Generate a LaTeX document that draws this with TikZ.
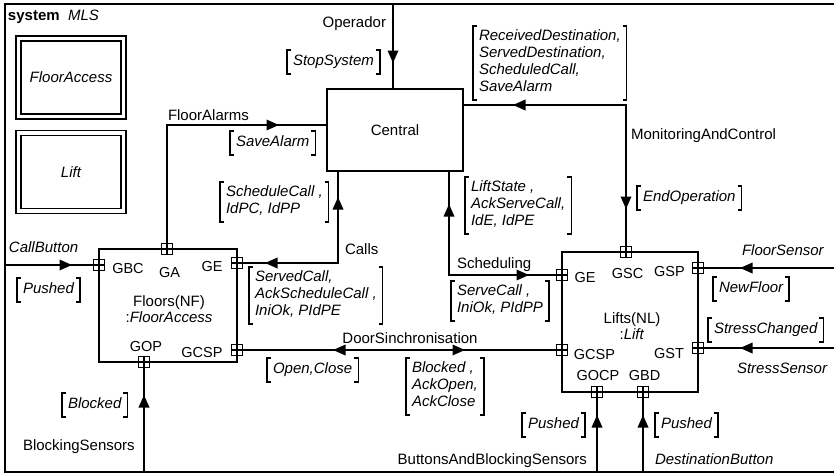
\documentclass[tikz,border=0pt]{standalone}
\usepackage{fontspec}
\setmainfont{Liberation Sans}
\usetikzlibrary{arrows.meta,decorations.markings,backgrounds}

\tikzset{
  txt/.style={font=\fontsize{15}{17}\selectfont, inner sep=0pt, outer sep=0pt},
  frame/.style={line width=2.2pt},
  box/.style={draw, line width=2pt, inner sep=0pt, font=\fontsize{15}{17}\selectfont},
  dbl/.style={draw, line width=1.8pt, double, double distance=3.2pt,
    minimum width=105pt, minimum height=78pt, inner sep=0pt,
    font=\fontsize{15}{17}\selectfont\itshape},
  conn/.style={line width=1.8pt},
  fwdtip/.style={postaction={decorate, decoration={markings,
      mark=at position #1 with {\arrow{Triangle[length=12.5pt,width=10.5pt]}}}}},
  backtip/.style={postaction={decorate, decoration={markings,
      mark=at position #1 with {\arrowreversed{Triangle[length=12.5pt,width=10.5pt]}}}}},
  port/.style={draw, fill=white, line width=1.4pt, minimum size=10.5pt,
    inner sep=0pt, outer sep=0pt,
    path picture={\draw[line width=1.4pt]
      (path picture bounding box.north) -- (path picture bounding box.south)
      (path picture bounding box.west) -- (path picture bounding box.east);}},
  plabel/.style={txt, anchor=base, font=\fontsize{14.5}{17}\selectfont},
  msg/.style={font=\fontsize{15}{17}\selectfont\itshape, align=left,
    inner xsep=6pt, inner ysep=3.5pt, outer sep=0pt,
    execute at begin node=\strut, execute at end node=\strut},
  bk/.style={line width=1.4pt},
}
\newcommand\bracketit[1]{%
  \draw[bk] ([xshift=4pt]#1.north west) -| (#1.south west) -- ++(4pt,0);
  \draw[bk] ([xshift=-4pt]#1.north east) -| (#1.south east) -- ++(-4pt,0);}

\begin{document}
\begin{tikzpicture}[x=1pt,y=-1pt]
\useasboundingbox (0,0) rectangle (834,474);

% system frame
\draw[frame] (834,4) -| (5,472) -- (834,472);
\node[txt, anchor=base west] (title) at (8,20) {\textbf{system}\ \ \textit{MLS}};

% part types
\node[dbl] (tfloor) at (71,77.5) {FloorAccess};
\node[dbl] (tlift) at (71,172) {Lift};

% parts
\node[box, minimum width=136pt, minimum height=82pt] (central) at (395,130) {Central};
\node[box, minimum width=138pt, minimum height=113pt] (floors) at (168,305.5) {};
\node[box, minimum width=136pt, minimum height=140pt] (lifts) at (630,322) {};
\node[txt, align=center, font=\fontsize{15}{15.5}\selectfont] (floorsname) at (169,309)
  {Floors(NF)\\:\textit{FloorAccess}};
\node[txt, align=center, font=\fontsize{15}{15.5}\selectfont] (liftsname) at (632,326)
  {Lifts(NL)\\:\textit{Lift}};

% ports
\node[port] (fga) at (167,249) {};
\node[port] (fgbc) at (99,265) {};
\node[port] (fge) at (237,263) {};
\node[port] (fgop) at (144,362) {};
\node[port] (fgcsp) at (237,350) {};
\node[port] (lgsc) at (626,252) {};
\node[port] (lge) at (562,275) {};
\node[port] (lgsp) at (698,268) {};
\node[port] (lgcsp) at (562,350) {};
\node[port] (lgst) at (698,348) {};
\node[port] (lgocp) at (597,392) {};
\node[port] (lgbd) at (643,392) {};

% port names
\node[plabel] (lbgbc) at (128,273.5) {GBC};
\node[plabel] (lbga) at (169.5,277.5) {GA};
\node[plabel] (lbfge) at (212,271.5) {GE};
\node[plabel] (lbgop) at (146,351.5) {GOP};
\node[plabel] (lbfgcsp) at (202,357.5) {GCSP};
\node[plabel] (lblge) at (585,282.5) {GE};
\node[plabel] (lbgsc) at (627.5,278.5) {GSC};
\node[plabel] (lbgsp) at (669.5,276.5) {GSP};
\node[plabel] (lblgcsp) at (594.5,359.5) {GCSP};
\node[plabel] (lbgst) at (669,358.5) {GST};
\node[plabel] (lbgocp) at (598,380.5) {GOCP};
\node[plabel] (lbgbd) at (644.5,380.5) {GBD};

% free ends on the frame
\coordinate (opin) at (393,4);
\coordinate (cbin) at (5,265);
\coordinate (bsin) at (144,472);
\coordinate (fsin) at (834,268);
\coordinate (ssin) at (834,348);
\coordinate (obin) at (597,472);
\coordinate (dbin) at (643,472);

% connectors
\begin{scope}[on background layer]
\draw[conn, fwdtip=59pt] (opin) -- (opin |- central.north);
\draw[conn, fwdtip=236pt] (fga.center) |- (central.west |- 0,125);
\draw[conn, backtip=28pt, fwdtip=167pt] (fge.center) -| (central.south -| 338,0);
\draw[conn, backtip=32pt, fwdtip=183pt] (central.south -| 449,0) |- (lge.center);
\draw[conn, backtip=49pt, fwdtip=266pt] (central.east |- 0,105) -| (lgsc.center);
\draw[conn, backtip=96pt, fwdtip=228pt] (fgcsp.center) -- (lgcsp.center);
\draw[conn, fwdtip=67pt] (cbin) -- (fgbc.center);
\draw[conn, fwdtip=77pt] (bsin) -- (fgop.center);
\draw[conn, fwdtip=94pt] (fsin) -- (lgsp.center);
\draw[conn, fwdtip=94pt] (ssin) -- (lgst.center);
\draw[conn, fwdtip=57pt] (obin) -- (lgocp.center);
\draw[conn, fwdtip=57pt] (dbin) -- (lgbd.center);
\end{scope}

% connector names
\node[txt, anchor=base east] (nop) at (386,27) {Operador};
\node[txt, anchor=base west] (nfa) at (168,120) {FloorAlarms};
\node[txt, anchor=base west] (nmc) at (631,139) {MonitoringAndControl};
\node[txt, anchor=base west] (ncalls) at (345,254) {Calls};
\node[txt, anchor=base west] (nsched) at (457,268) {Scheduling};
\node[txt, anchor=base] (ndoor) at (410,343) {DoorSinchronisation};
\node[txt, anchor=base west] (ncb) at (9,252) {\itshape CallButton};
\node[txt, anchor=base west] (nbs) at (23,450) {BlockingSensors};
\node[txt, anchor=base east] (nbbs) at (587,464) {ButtonsAndBlockingSensors};
\node[txt, anchor=base west] (ndb) at (655,464) {\itshape DestinationButton};
\node[txt, anchor=base west] (nfs) at (742,255) {\itshape FloorSensor};
\node[txt, anchor=base west] (nss) at (737,373) {\itshape StressSensor};

% message sets
\node[msg, anchor=north west] (mstop) at (287,50) {StopSystem};
\node[msg, anchor=north west] (mmon) at (473,26)
  {ReceivedDestination,\\ServedDestination,\\ScheduledCall,\\SaveAlarm};
\node[msg, anchor=north west] (malarm) at (230,131) {SaveAlarm};
\node[msg, anchor=north west] (mcallsup) at (220,182) {ScheduleCall ,\\IdPC, IdPP};
\node[msg, anchor=north west] (mcallsdn) at (249,267)
  {ServedCall,\\AckScheduleCall ,\\IniOk, PIdPE};
\node[msg, anchor=north west] (mschedup) at (465,177)
  {LiftState ,\\AckServeCall,\\IdE, IdPE};
\node[msg, anchor=north west] (mscheddn) at (451,281) {ServeCall ,\\IniOk, PIdPP};
\node[msg, anchor=north west] (mdoorl) at (267,358) {Open,Close};
\node[msg, anchor=north west] (mdoorr) at (406,358) {Blocked ,\\AckOpen,\\AckClose};
\node[msg, anchor=north west] (mend) at (637,186) {EndOperation};
\node[msg, anchor=north west] (mnew) at (713,277) {NewFloor};
\node[msg, anchor=north west] (mstress) at (708,318) {StressChanged};
\node[msg, anchor=north west] (mpcb) at (17,278) {Pushed};
\node[msg, anchor=north east] (mpocp) at (585,413) {Pushed};
\node[msg, anchor=north west] (mpbd) at (655,413) {Pushed};
\node[msg, anchor=north west] (mblk) at (62,393) {Blocked};

\bracketit{mstop}
\bracketit{mmon}
\bracketit{malarm}
\bracketit{mcallsup}
\bracketit{mcallsdn}
\bracketit{mschedup}
\bracketit{mscheddn}
\bracketit{mdoorl}
\bracketit{mdoorr}
\bracketit{mend}
\bracketit{mnew}
\bracketit{mstress}
\bracketit{mpcb}
\bracketit{mpocp}
\bracketit{mpbd}
\bracketit{mblk}
\end{tikzpicture}
\end{document}
